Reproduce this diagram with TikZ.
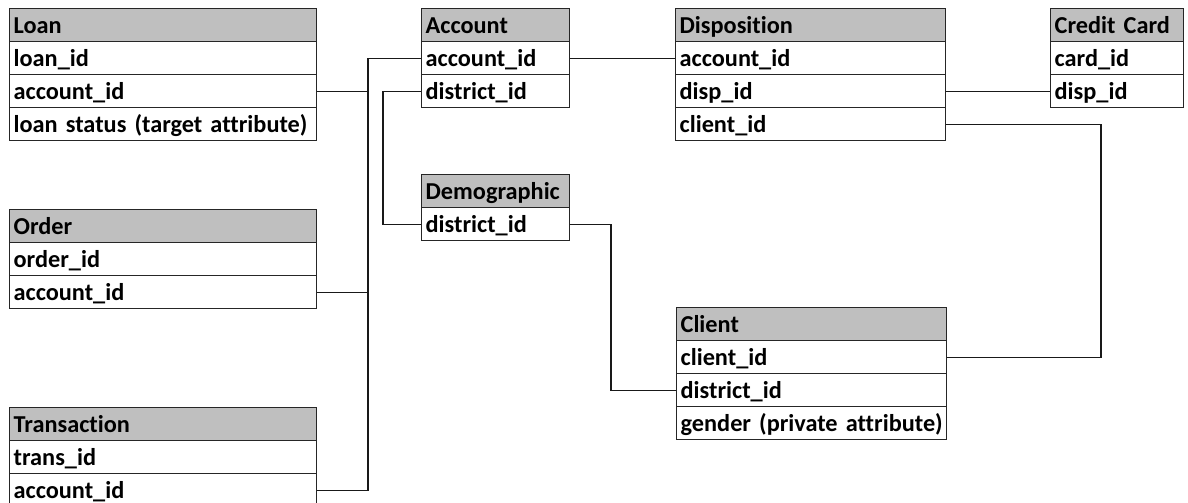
\documentclass[tikz,border=0pt]{standalone}
\usepackage{fontspec}
\newfontfamily\tabfont{Carlito}[RawFeature={-liga}, WordSpace=0.8]
\definecolor{hdrgray}{RGB}{191,191,191}
\begin{document}
\begin{tikzpicture}[x=1pt,y=-1pt,
  cell/.style={draw=black!85, line width=1.3pt, rectangle, inner xsep=4pt, inner ysep=0pt,
    minimum height=33pt, text height=18pt, text depth=1pt, align=left, anchor=north west,
    font=\tabfont\bfseries\fontsize{24.3}{28}\selectfont},
  hdr/.style={cell, fill=hdrgray},
  row/.style={cell, fill=white},
  wide/.style={text width=299pt},
  narrow/.style={text width=140pt},
  mid/.style={text width=262pt},
  small/.style={text width=125pt},
  link/.style={line width=1.1pt, black!90}]
\clip (0,0) rectangle (1188,503);
% Loan
\node[hdr,wide] (loan-h) at (9,8) {Loan};
\node[row,wide] (loan-1) at (9,41) {loan\_id};
\node[row,wide] (loan-2) at (9,74) {account\_id};
\node[row,wide] (loan-3) at (9,107) {\mbox{loan status (target attribute)}};
% Order
\node[hdr,wide] (ord-h) at (9,209) {Order};
\node[row,wide] (ord-1) at (9,242) {order\_id};
\node[row,wide] (ord-2) at (9,275) {account\_id};
% Transaction
\node[hdr,wide] (tr-h) at (9,407) {Transaction};
\node[row,wide] (tr-1) at (9,440) {trans\_id};
\node[row,wide] (tr-2) at (9,473) {account\_id};
% Account
\node[hdr,narrow] (acc-h) at (421,8) {Account};
\node[row,narrow] (acc-1) at (421,41) {account\_id};
\node[row,narrow] (acc-2) at (421,74) {district\_id};
% Demographic
\node[hdr,narrow] (dem-h) at (421,174) {Demographic};
\node[row,narrow] (dem-1) at (421,207) {district\_id};
% Disposition
\node[hdr,mid] (dis-h) at (675,8) {Disposition};
\node[row,mid] (dis-1) at (675,41) {account\_id};
\node[row,mid] (dis-2) at (675,74) {disp\_id};
\node[row,mid] (dis-3) at (675,107) {client\_id};
% Credit Card
\node[hdr,small] (cc-h) at (1050,8) {\mbox{Credit Card}};
\node[row,small] (cc-1) at (1050,41) {card\_id};
\node[row,small] (cc-2) at (1050,74) {disp\_id};
% Client
\node[hdr,mid] (cli-h) at (676,307) {Client};
\node[row,mid] (cli-1) at (676,340) {client\_id};
\node[row,mid] (cli-2) at (676,373) {district\_id};
\node[row,mid] (cli-3) at (676,406) {\mbox{gender (private attribute)}};
% bus coordinates
\coordinate (bus1) at (368,0);
\coordinate (bus2) at (383,0);
\coordinate (bus3) at (611,0);
\coordinate (bus4) at (1101,0);
% connectors
\draw[link] (acc-1.west) -- (acc-1.west -| bus1) -- (tr-2.east -| bus1) -- (tr-2.east);
\draw[link] (loan-2.east) -- (loan-2.east -| bus1);
\draw[link] (ord-2.east) -- (ord-2.east -| bus1);
\draw[link] (acc-2.west) -- (acc-2.west -| bus2) -- (dem-1.west -| bus2) -- (dem-1.west);
\draw[link] (acc-1.east) -- (dis-1.west);
\draw[link] (dis-2.east) -- (cc-2.west);
\draw[link] (dis-3.east) -- (dis-3.east -| bus4) -- (cli-1.east -| bus4) -- (cli-1.east);
\draw[link] (dem-1.east) -- (dem-1.east -| bus3) -- (cli-2.west -| bus3) -- (cli-2.west);
\end{tikzpicture}
\end{document}
